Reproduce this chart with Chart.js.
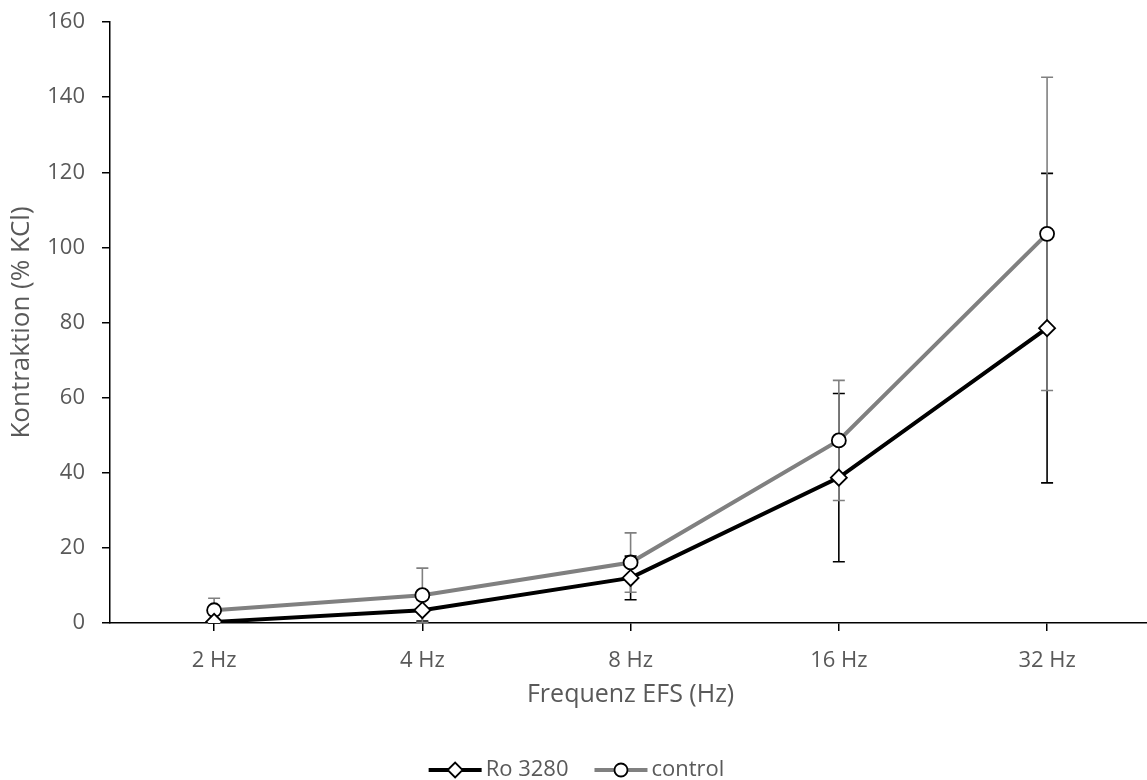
<!DOCTYPE html>
<html lang="de">
<head>
<meta charset="UTF-8" />
<title>Kontraktion vs Frequenz EFS</title>
<script src="https://cdn.jsdelivr.net/npm/chart.js"></script>
<style>
  html, body { margin: 0; padding: 0; background: #fff; overflow: hidden; }
  /* a little wider than the window so the last category half-slot runs past the edge, as in the original */
  #wrap { width: 1161px; height: 780px; position: relative; }
</style>
</head>
<body>
<div id="wrap"><canvas id="chart"></canvas></div>
<script>
// values
const categories = ['2 Hz', '4 Hz', '8 Hz', '16 Hz', '32 Hz'];
const roValues = [0.3, 3.4, 12.0, 38.7, 78.5];
const roErrors = [0.4, 2.9, 5.8, 22.4, 41.2];
const controlValues = [3.4, 7.4, 16.1, 48.6, 103.6];
const controlErrors = [3.2, 7.2, 7.9, 16.0, 41.7];
const yTicks = [0, 20, 40, 60, 80, 100, 120, 140, 160];

const FONT = "'Open Sans', 'DejaVu Sans', sans-serif";
const TEXT = '#595959';
const GREY = '#808080';

// error bars, drawn under the lines (black first, grey over it)
const errorBars = {
  id: 'errorBars',
  beforeDatasetsDraw(chart) {
    const ctx = chart.ctx, y = chart.scales.y;
    [0, 1].forEach(di => {
      const ds = chart.data.datasets[di];
      const meta = chart.getDatasetMeta(di);
      ctx.save();
      ctx.strokeStyle = ds.errColor;
      ctx.lineWidth = 1.6;
      meta.data.forEach((pt, i) => {
        const v = ds.data[i], e = ds.errors[i];
        const top = y.getPixelForValue(v + e);
        const bot = y.getPixelForValue(Math.max(v - e, 0));
        ctx.beginPath();
        ctx.moveTo(pt.x, top); ctx.lineTo(pt.x, bot);
        ctx.moveTo(pt.x - 6, top); ctx.lineTo(pt.x + 6, top);
        ctx.moveTo(pt.x - 6, bot); ctx.lineTo(pt.x + 6, bot);
        ctx.stroke();
      });
      ctx.restore();
    });
  }
};

// legend with line + marker like the original
const lineLegend = {
  id: 'lineLegend',
  afterDraw(chart) {
    const ctx = chart.ctx;
    ctx.save();
    ctx.font = '22px ' + FONT;
    const items = chart.data.datasets.map(ds => ({ ds, w: ctx.measureText(ds.label).width }));
    const sample = 53, gap = 4, between = 26;
    let total = items.reduce((s, it) => s + sample + gap + it.w, 0) + between * (items.length - 1);
    let x = 1147 / 2 - total / 2 + 3;
    const yc = 770;
    items.forEach(({ ds, w }) => {
      ctx.strokeStyle = ds.borderColor;
      ctx.lineWidth = 4;
      ctx.beginPath(); ctx.moveTo(x, yc); ctx.lineTo(x + sample, yc); ctx.stroke();
      const cx = x + sample / 2;
      ctx.fillStyle = '#fff';
      ctx.strokeStyle = '#000';
      ctx.lineWidth = 1.8;
      ctx.beginPath();
      if (ds.pointStyle === 'rectRot') {
        const r = 7.5;
        ctx.moveTo(cx - r, yc); ctx.lineTo(cx, yc - r); ctx.lineTo(cx + r, yc); ctx.lineTo(cx, yc + r); ctx.closePath();
      } else {
        ctx.arc(cx, yc, 6.5, 0, Math.PI * 2);
      }
      ctx.fill(); ctx.stroke();
      ctx.fillStyle = TEXT;
      ctx.textBaseline = 'middle';
      ctx.textAlign = 'left';
      ctx.fillText(ds.label, x + sample + gap, yc);
      x += sample + gap + w + between;
    });
    ctx.restore();
  }
};

new Chart(document.getElementById('chart'), {
  type: 'line',
  data: {
    labels: categories,
    datasets: [
      {
        label: 'Ro 3280',
        data: roValues,
        errors: roErrors,
        errColor: '#000',
        borderColor: '#000',
        borderWidth: 4,
        pointStyle: 'rectRot',
        pointRadius: 8,
        pointBackgroundColor: '#fff',
        pointBorderColor: '#000',
        pointBorderWidth: 1.8,
        tension: 0
      },
      {
        label: 'control',
        data: controlValues,
        errors: controlErrors,
        errColor: GREY,
        borderColor: GREY,
        borderWidth: 4,
        pointStyle: 'circle',
        pointRadius: 7,
        pointBackgroundColor: '#fff',
        pointBorderColor: '#000',
        pointBorderWidth: 1.8,
        tension: 0
      }
    ]
  },
  options: {
    responsive: true,
    maintainAspectRatio: false,
    animation: false,
    layout: { padding: { top: 22, right: 0, bottom: 60, left: 0 } },
    plugins: { legend: { display: false }, tooltip: { enabled: false } },
    scales: {
      x: {
        offset: true,
        grid: { offset: false, drawOnChartArea: false, drawTicks: true, tickLength: 8, color: '#000', lineWidth: 1.5 },
        border: { color: '#000', width: 1.5 },
        ticks: { color: TEXT, font: { family: FONT, size: 22 }, padding: 17, maxRotation: 0 },
        title: { display: true, text: 'Frequenz EFS (Hz)', color: TEXT, font: { family: FONT, size: 25 }, padding: { top: 4, bottom: 10 } },
        afterFit(scale) { scale.height = 97; scale.paddingLeft = 0; scale.paddingRight = 0; }
      },
      y: {
        min: 0,
        max: 160,
        afterBuildTicks(scale) { scale.ticks = yTicks.map(v => ({ value: v })); },
        grid: { drawOnChartArea: false, drawTicks: true, tickLength: 8, color: '#000', lineWidth: 1.5 },
        border: { color: '#000', width: 1.5 },
        ticks: { color: TEXT, font: { family: FONT, size: 22 }, padding: 17 },
        title: { display: true, text: 'Kontraktion (% KCl)', color: TEXT, font: { family: FONT, size: 26 }, padding: { top: 6, bottom: 4 } },
        afterFit(scale) { scale.width = 110; scale.paddingTop = 0; scale.paddingBottom = 0; }
      }
    }
  },
  plugins: [errorBars, lineLegend]
});
</script>
</body>
</html>
